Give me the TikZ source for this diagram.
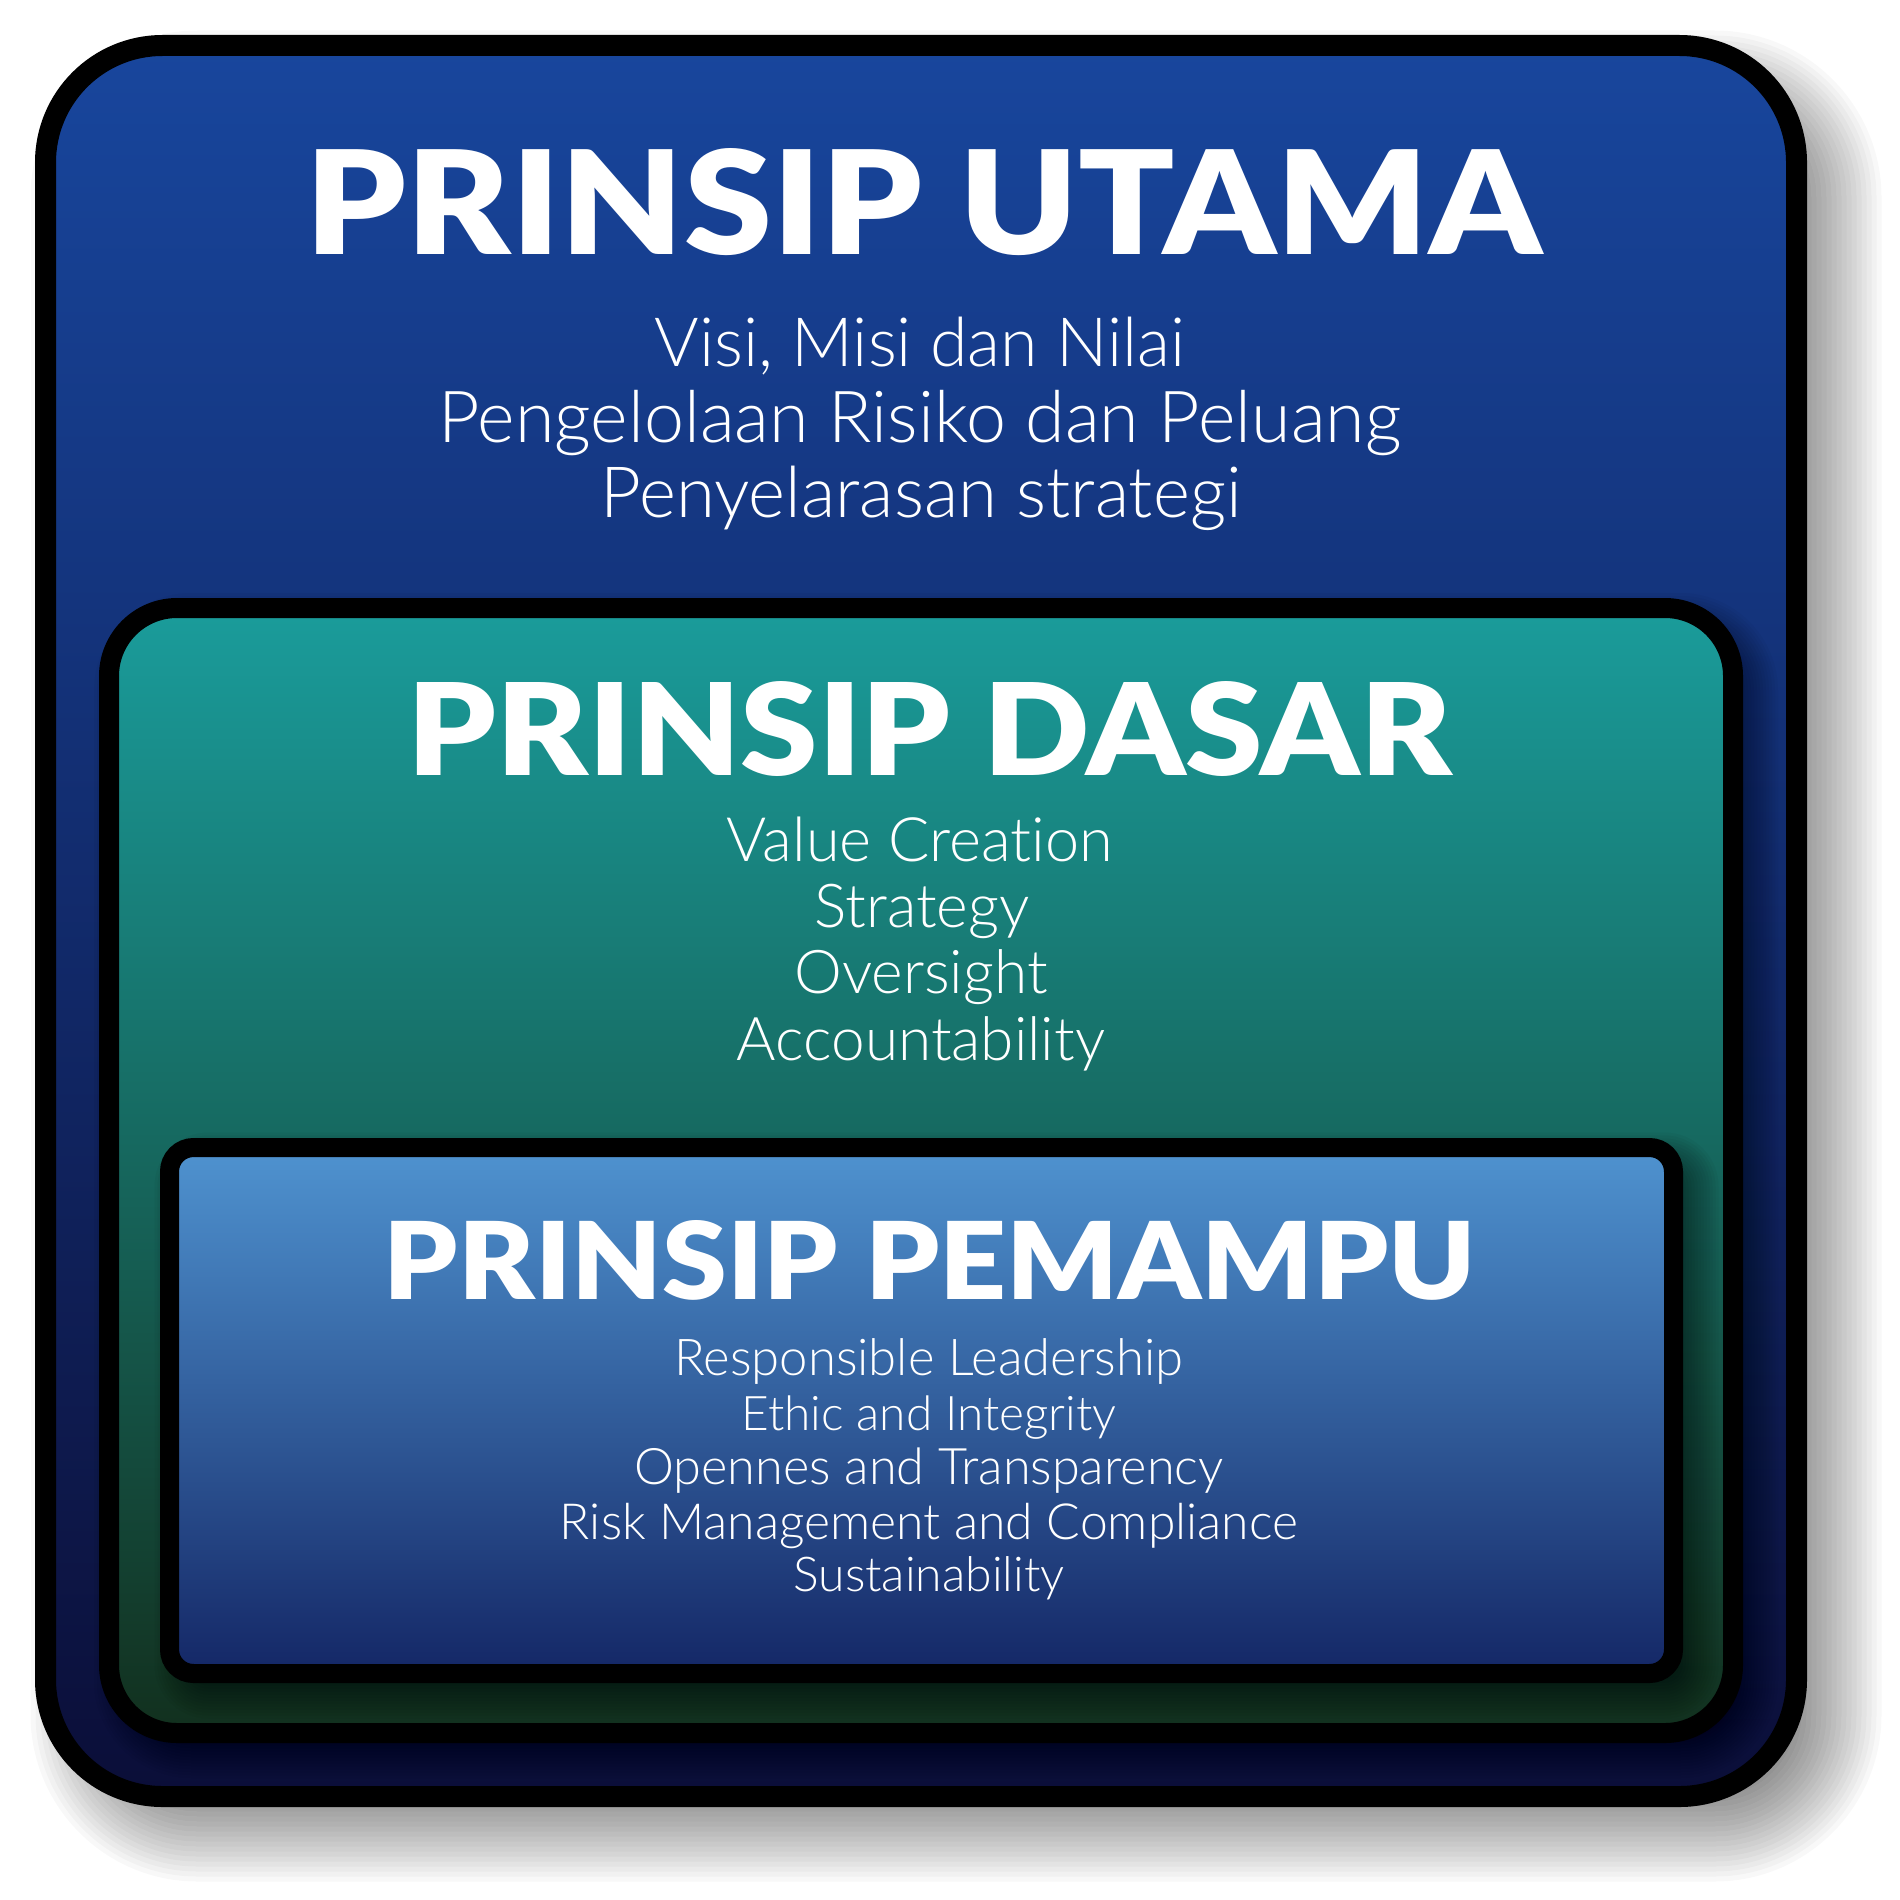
\documentclass[tikz,border=0pt]{standalone}
\usepackage{fontspec}
\usepackage{graphicx}
\newfontfamily\headfont{Lato Black}
\newfontfamily\bodyfont{Lato Light}[Ligatures=NoCommon]
\newlength\unitpx
\setlength\unitpx{0.5pt}
\definecolor{utamaTop}{HTML}{18469D}
\definecolor{utamaBot}{HTML}{0B0E38}
\definecolor{dasarTop}{HTML}{1A9C9B}
\definecolor{dasarBot}{HTML}{12301E}
\definecolor{pemTop}{HTML}{4F93D0}
\definecolor{pemBot}{HTML}{142766}
\newcommand\wfit[2]{\resizebox{#1\unitpx}{!}{#2}}
\newcommand\hfitbox[3]{\resizebox{#1\unitpx}{#2\unitpx}{#3}}
\tikzset{
  boxframe/.style={draw=black, line width=#1},
  shadowlayer/.style={fill=black, draw=none, fill opacity=#1},
  headtext/.style={text=white, inner sep=0pt, anchor=base, font=\headfont},
  bodytext/.style={text=white, inner sep=0pt, anchor=base, font=\bodyfont},
}
\begin{document}
\begin{tikzpicture}[x=0.5pt, y=-0.5pt]
\useasboundingbox (0,0) rectangle (1900,1900);
\fill[white] (0,0) rectangle (1900,1900);

% outer shadow (stacked soft layers, offset to bottom-right)
\foreach \e [evaluate=\e as \r using {max(2,(117+\e))*0.5}] in {-50,-45,...,50}{
  \path[shadowlayer=0.028, rounded corners=\r pt]
    ({45.5+35-\e},{45.5+35-\e}) rectangle ({1796.5+35+\e},{1796.5+35+\e});
}

% outer box
\path[boxframe=10.5pt, rounded corners=58.5pt, top color=utamaTop, bottom color=utamaBot]
  (45.5,45.5) rectangle (1796.5,1796.5);

% dasar shadow
\foreach \e [evaluate=\e as \r using {max(2,(68+\e))*0.5}] in {-15,-12,...,30}{
  \path[shadowlayer=0.03, rounded corners=\r pt]
    ({109+15-\e},{608+15-\e}) rectangle ({1733+15+\e},{1733+15+\e});
}

% dasar box
\path[boxframe=10pt, rounded corners=34pt, top color=dasarTop, bottom color=dasarBot]
  (109,608) rectangle (1733,1733);

% pemampu shadow
\foreach \e [evaluate=\e as \r using {max(2,(24+\e))*0.5}] in {-15,-12,...,30}{
  \path[shadowlayer=0.035, rounded corners=\r pt]
    ({169.5+15-\e},{1147.5+15-\e}) rectangle ({1673.5+15+\e},{1673.5+15+\e});
}

% pemampu box
\path[boxframe=9.5pt, rounded corners=12pt, top color=pemTop, bottom color=pemBot]
  (169.5,1147.5) rectangle (1673.5,1673.5);

% headings
\node[headtext] (hutama) at (924,254) {\hfitbox{1236}{106}{PRINSIP UTAMA}};
\node[headtext] (hdasar) at (930,775) {\hfitbox{1044}{94}{PRINSIP DASAR}};
\node[headtext] (hpem) at (930,1299) {\hfitbox{1092}{79}{PRINSIP PEMAMPU}};

% utama body
\node[bodytext] (u1) at (920,366) {\wfit{531}{Visi, Misi dan Nilai}};
\node[bodytext] (u2) at (920,442) {\wfit{963}{Pengelolaan Risiko dan Peluang}};
\node[bodytext] (u3) at (921,517) {\wfit{641}{Penyelarasan strategi}};

% dasar body
\node[bodytext] (d1) at (920,861) {\wfit{386}{Value Creation}};
\node[bodytext] (d2) at (922,927) {\wfit{215}{Strategy}};
\node[bodytext] (d3) at (921,993) {\wfit{253}{Oversight}};
\node[bodytext] (d4) at (921,1060) {\wfit{368}{Accountability}};

% pemampu body
\node[bodytext] (p1) at (929,1375) {\wfit{509}{Responsible Leadership}};
\node[bodytext] (p2) at (929,1430) {\wfit{375}{Ethic and Integrity}};
\node[bodytext] (p3) at (929,1484) {\wfit{589}{Opennes and Transparency}};
\node[bodytext] (p4) at (929,1539) {\wfit{738}{Risk Management and Compliance}};
\node[bodytext] (p5) at (929,1591) {\wfit{271}{Sustainability}};
\end{tikzpicture}
\end{document}
